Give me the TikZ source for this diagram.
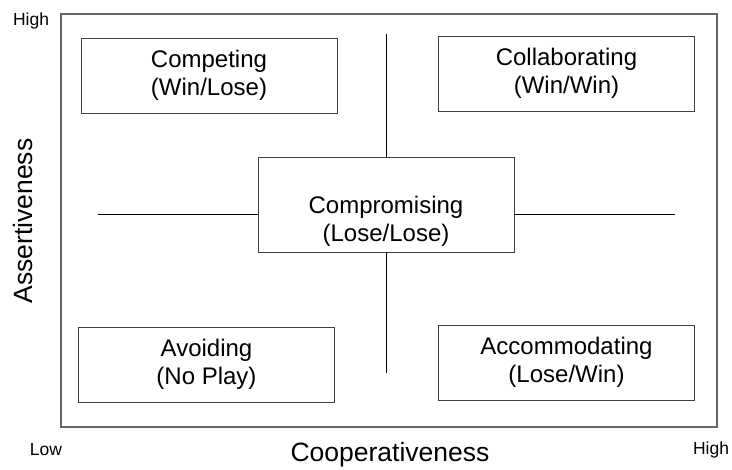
\documentclass[tikz,border=0pt]{standalone}
\usepackage{fontspec}
\setmainfont{Liberation Sans}
\begin{document}
\begin{tikzpicture}[x=1pt, y=-1pt,
  quadtext/.style={align=center, inner sep=0pt, font=\fontsize{24}{28}\selectfont},
  quad/.style={quadtext, draw=black!75, line width=0.9pt, minimum width=256, minimum height=75},
  axislabel/.style={font=\fontsize{26.5}{30}\selectfont},
  endlabel/.style={font=\fontsize{17.5}{20}\selectfont}]
\useasboundingbox (0,0) rectangle (732,470);
\node[draw=black!60, line width=1.2pt, minimum width=656, minimum height=413] (frame) at (389,220.5) {};
\node[quad] (competing) at (209,75.5) {Competing\\(Win/Lose)};
\node[quad] (collab) at (566.5,73.5) {Collaborating\\(Win/Win)};
\node[quad, minimum height=95] (compromise) at (386,204.5) {};
\node[quadtext] (compromisetext) at (386,221.5) {Compromising\\(Lose/Lose)};
\node[quad] (avoiding) at (206.5,364.5) {Avoiding\\(No Play)};
\node[quad] (accom) at (566.5,362.5) {Accommodating\\(Lose/Win)};
\coordinate (vtop) at (386,34);
\coordinate (vbot) at (386,373);
\coordinate (hleft) at (98,214);
\coordinate (hright) at (675,214);
\draw[line width=0.9pt](vtop) -- (vtop |- compromise.north);
\draw[line width=0.9pt](vbot |- compromise.south) -- (vbot);
\draw[line width=0.9pt](hleft) -- (hleft -| compromise.west);
\draw[line width=0.9pt](compromise.east |- hright) -- (hright);
\node[endlabel] (highy) at (31,21) {High};
\node[endlabel] (lowx) at (46,450) {Low};
\node[endlabel] (highx) at (711,450) {High};
\node[axislabel] (coop) at (390,455) {Cooperativeness};
\node[axislabel, rotate=90] (assert) at (23,221) {Assertiveness};
\end{tikzpicture}
\end{document}
